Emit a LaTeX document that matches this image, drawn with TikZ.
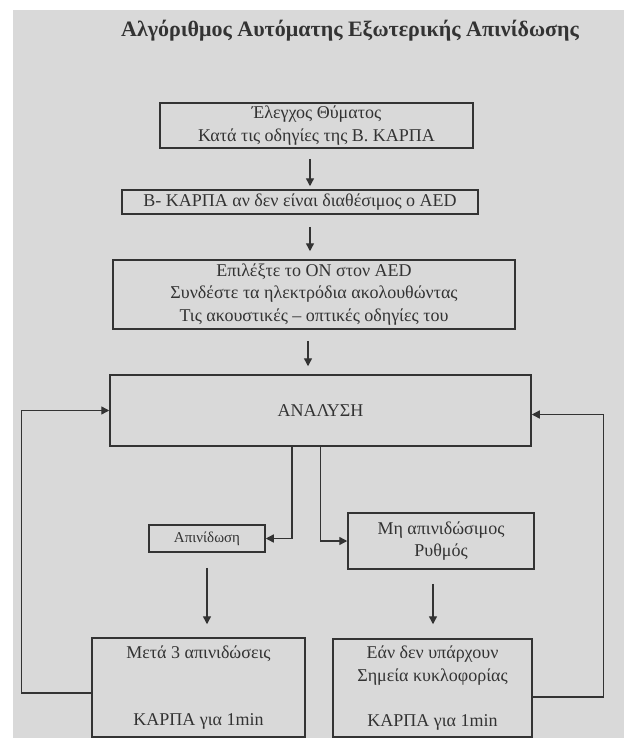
\documentclass[tikz,border=0pt]{standalone}
\usepackage{fontspec}
\setmainfont{Liberation Serif}
\usetikzlibrary{arrows.meta}

\definecolor{paper}{HTML}{D9D9D9}
\definecolor{ink}{HTML}{333333}

\begin{document}
\begin{tikzpicture}[x=0.5pt, y=-0.5pt,
  box/.style={draw=ink, line width=0.75pt, align=center, inner sep=0pt, text=ink,
    font=\fontsize{9}{11.2}\selectfont},
  arr/.style={draw=ink, line width=0.7pt, -{Triangle[length=4pt,width=4pt]}}]
\useasboundingbox (0,0) rectangle (624,738);
\fill[paper] (13,10) rectangle (624,738);

\node[text=ink, font=\fontsize{11}{13}\bfseries] (title) at (350,31) {Αλγόριθμος Αυτόματης Εξωτερικής Απινίδωσης};

\node[box, minimum width=156.5pt, minimum height=22.5pt] (check) at (316.5,125.5) {Έλεγχος Θύματος\\Κατά τις οδηγίες της Β. ΚΑΡΠΑ};
\node[box, minimum width=178pt, minimum height=12pt] (cpr) at (300,202) {Β- ΚΑΡΠΑ αν δεν είναι διαθέσιμος ο AED};
\node[box, minimum width=201pt, minimum height=34.5pt] (aed) at (314,294.5) {Επιλέξτε το ON στον AED\\Συνδέστε τα ηλεκτρόδια ακολουθώντας\\Τις ακουστικές – οπτικές οδηγίες του};
\node[box, minimum width=210.5pt, minimum height=35.5pt] (anal) at (320.5,410.5) {ΑΝΑΛΥΣΗ};
\node[box, minimum width=58pt, minimum height=13.5pt, font=\fontsize{7.5}{9}\selectfont] (shock) at (207,538.5) {Απινίδωση};
\node[box, minimum width=93pt, minimum height=28pt] (noshock) at (441,541) {Μη απινιδώσιμος\\Ρυθμός};
\node[box, minimum width=106.5pt, minimum height=49.5pt] (after3) at (198.5,687.5) {Μετά 3 απινιδώσεις\\ \\ \\ΚΑΡΠΑ για 1min};
\node[box, minimum width=99.5pt, minimum height=49pt] (nocirc) at (432.5,688) {Εάν δεν υπάρχουν\\Σημεία κυκλοφορίας\\ \\ΚΑΡΠΑ για 1min};

% main line
\draw[arr, shorten <=5pt, shorten >=1.5pt] ([xshift=-3.25pt]check.south) -- ([xshift=-3.25pt]check.south |- cpr.north);
\draw[arr, shorten <=6pt, shorten >=4pt] ([xshift=5pt]cpr.south) -- ([xshift=5pt]cpr.south |- aed.north);
\draw[arr, shorten <=5.5pt, shorten >=4pt] ([xshift=-3pt]aed.south) -- ([xshift=-3pt]aed.south |- anal.north);

% analysis result
\draw[arr] ([xshift=-14.25pt]anal.south) |- (shock.east);
\draw[arr] (anal.south) |- (noshock.west);
\draw[arr, shorten <=7.5pt, shorten >=6.5pt] (shock.south) -- (shock.south |- after3.north);
\draw[arr, shorten <=7pt, shorten >=7pt] ([xshift=-4pt]noshock.south) -- ([xshift=-4pt]noshock.south |- nocirc.north);

% back to analysis
\draw[arr] ([yshift=-2.75pt]after3.west) -- ++(-70,0) |- (anal.west);
\draw[arr] ([yshift=-4.5pt]nocirc.east) -- ++(71,0) |- ([yshift=-2pt]anal.east);
\end{tikzpicture}
\end{document}
